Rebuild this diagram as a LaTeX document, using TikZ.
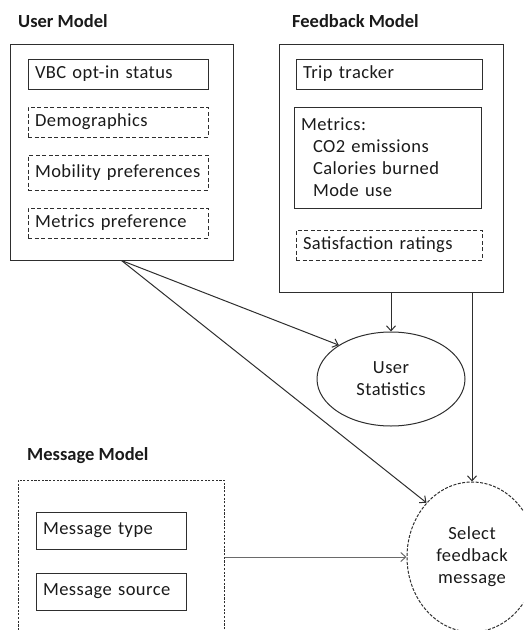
\documentclass[tikz,border=0pt]{standalone}
\usepackage{fontspec}
\setmainfont{Carlito}[LetterSpace=2.5, BoldFeatures={LetterSpace=0}]
\usetikzlibrary{arrows.meta,shapes.geometric,calc}
\definecolor{ln}{HTML}{2E2E2E}
\definecolor{tx}{HTML}{1A1A1A}
\definecolor{mg}{HTML}{6A6A6A}
\begin{document}
\begin{tikzpicture}[x=1pt,y=-1pt,
  every node/.style={font=\fontsize{18.5}{22}\selectfont, text=tx},
  lbl/.style={anchor=west, inner sep=0pt, font=\fontsize{18.5}{22}\selectfont\bfseries},
  outer/.style={draw=ln, line width=1pt, rectangle, inner sep=0pt},
  ibox/.style={draw=ln, line width=1pt, rectangle, inner xsep=7pt, inner ysep=0pt, align=left},
  dbox/.style={ibox, dash pattern=on 4pt off 2.5pt},
  conn/.style={draw=ln, line width=1pt, -{Straight Barb[length=5pt,width=9pt]}},
]
\clip (0,0) rectangle (523,630);

% labels
\node[lbl] (uml) at (18,21) {User Model};
\node[lbl] (fml) at (292,21) {Feedback Model};
\node[lbl] (mml) at (27,456) {Message Model};

% User model
\node[outer, minimum width=223pt, minimum height=216pt] (um) at (121.5,152) {};
\node[ibox, text width=166pt, minimum height=30pt] (vbc) at (118,74) {VBC opt-in status};
\node[dbox, text width=166pt, minimum height=30pt] (demo) at (118,122) {Demographics};
\node[dbox, text width=166pt, minimum height=35pt] (mob) at (118,172.5) {Mobility preferences};
\node[dbox, text width=166pt, minimum height=30pt] (mpref) at (118,223) {Metrics preference};

% Feedback model
\node[outer, minimum width=224pt, minimum height=248pt] (fm) at (391,168) {};
\node[ibox, text width=172pt, minimum height=30pt] (trip) at (389,74) {Trip tracker};
\node[ibox, text width=173pt, minimum height=101pt] (met) at (387.5,157.5)
  {Metrics:\\\hspace*{12pt}CO2 emissions\\\hspace*{12pt}Calories burned\\\hspace*{12pt}Mode use};
\node[dbox, text width=172pt, minimum height=30pt] (sat) at (389,245) {Satisfaction ratings};

% Ellipses
\node[ellipse, draw=ln, line width=1pt, minimum width=148pt, minimum height=94pt, inner sep=0pt, align=center] (us) at (391,379) {User\\Statistics};
\node[ellipse, draw=ln, line width=1pt, dash pattern=on 3pt off 1.5pt, minimum width=130pt, minimum height=150pt, inner sep=0pt, align=center] (sel) at (472,557) {Select\\feedback\\message};

% Message model
\node[outer, dash pattern=on 2.2pt off 1.5pt, minimum width=206pt, minimum height=180pt] (mm) at (121,570) {};
\node[ibox, text width=136pt, minimum height=37pt] (mtype) at (111,530.5) {Message type};
\node[ibox, text width=136pt, minimum height=37pt] (msrc) at (111,591.5) {Message source};

% connectors
\draw[conn] (um.south) -- (us.147);
\draw[conn] (um.south) -- (sel.130);
\draw[conn] (fm.south) -- (us.north);
\draw[conn] (sel.north |- fm.south) -- (sel.north);
\draw[conn, draw=mg] (sel.west -| mm.east) -- (sel.west);
\end{tikzpicture}
\end{document}
